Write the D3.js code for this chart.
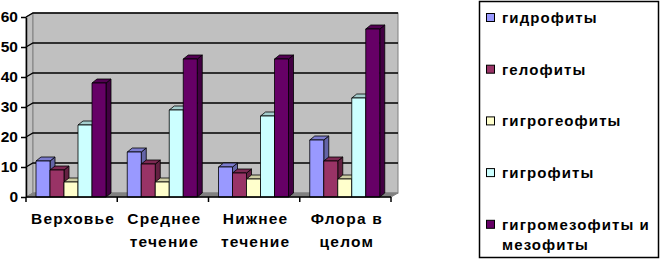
<!DOCTYPE html>
<html>
<head>
<meta charset="utf-8">
<script src="https://cdn.jsdelivr.net/npm/d3@7"></script>
<style>
  body { margin: 0; background: #fff; }
  text { font-family: "Liberation Sans", Arial, sans-serif; font-weight: bold; }
</style>
</head>
<body>
<div id="chart"></div>
<script>
// data
var categories = [["Верховье"], ["Среднее", "течение"], ["Нижнее", "течение"], ["Флора в", "целом"]];
var series = ["гидрофиты", "гелофиты", "гигрогеофиты", "гигрофиты", "гигромезофиты и мезофиты"];
var hydro    = [12, 15, 10, 19];
var helo     = [9, 11, 8, 12];
var hygroGeo = [5, 5, 6, 6];
var hygro    = [24, 29, 27, 33];
var hygroMes = [38, 46, 46, 56];
var yTicks = [0, 10, 20, 30, 40, 50, 60];

var values = [hydro, helo, hygroGeo, hygro, hygroMes];
var colors = ["#9999FF", "#993366", "#FFFFCC", "#CCFFFF", "#660066"];

var width = 661, height = 260;
var plotLeft = 26, plotRight = 391, plotTop = 17, plotBottom = 197;
var wallDx = 7, wallDy = -4;   // depth of the back wall
var barDx = 5, barDy = -4;     // depth of each column

var svg = d3.select("#chart").append("svg")
    .attr("width", width)
    .attr("height", height);

var y = d3.scaleLinear().domain([0, 60]).range([plotBottom, plotTop]);
var x = d3.scaleBand().domain(d3.range(categories.length)).range([plotLeft, plotRight]);
var xs = d3.scaleBand().domain(d3.range(series.length)).range([10, 80]);

// walls
svg.append("polygon")
    .attr("points", [[plotLeft, plotTop], [plotLeft + wallDx, plotTop + wallDy],
        [plotLeft + wallDx, plotBottom + wallDy], [plotLeft, plotBottom]].join(" "))
    .attr("fill", "#c0c0c0").attr("stroke", "#808080");
svg.append("rect")
    .attr("x", plotLeft + wallDx).attr("y", plotTop + wallDy)
    .attr("width", plotRight - plotLeft).attr("height", plotBottom - plotTop)
    .attr("fill", "#c0c0c0").attr("stroke", "#808080");
svg.append("polygon")
    .attr("points", [[plotLeft, plotBottom], [plotLeft + wallDx, plotBottom + wallDy],
        [plotRight + wallDx, plotBottom + wallDy], [plotRight, plotBottom]].join(" "))
    .attr("fill", "#808080").attr("stroke", "#808080");

// gridlines
yTicks.filter(function(t) { return t > 0; }).forEach(function(t) {
    svg.append("polyline")
        .attr("points", [[plotLeft, y(t)], [plotLeft + wallDx, y(t) + wallDy], [plotRight + wallDx, y(t) + wallDy]].join(" "))
        .attr("fill", "none").attr("stroke", "#000").attr("stroke-width", 1.3);
});

// columns
function shade(c, k) { return d3.color(c).darker(k).toString(); }
categories.forEach(function(cat, ci) {
    series.forEach(function(s, si) {
        var v = values[si][ci];
        var x0 = x(ci) + xs(si), x1 = x0 + xs.bandwidth();
        var yt = y(v), yb = plotBottom;
        var g = svg.append("g").attr("stroke", "#000").attr("stroke-width", 0.8).attr("stroke-linejoin", "round");
        g.append("polygon")
            .attr("points", [[x1, yt], [x1 + barDx, yt + barDy], [x1 + barDx, yb + barDy], [x1, yb]].join(" "))
            .attr("fill", shade(colors[si], 1.2));
        g.append("polygon")
            .attr("points", [[x0, yt], [x0 + barDx, yt + barDy], [x1 + barDx, yt + barDy], [x1, yt]].join(" "))
            .attr("fill", shade(colors[si], 0.6));
        g.append("rect")
            .attr("x", x0).attr("y", yt).attr("width", x1 - x0).attr("height", yb - yt)
            .attr("fill", colors[si]);
    });
});

// y axis
var yAxis = svg.append("g").attr("transform", "translate(" + plotLeft + ",0)")
    .call(d3.axisLeft(y).tickValues(yTicks).tickSize(5).tickSizeOuter(0).tickPadding(3));
yAxis.select(".domain").attr("stroke", "#000").attr("stroke-width", 1.5);
yAxis.selectAll("line").attr("stroke", "#000").attr("stroke-width", 1.5);
yAxis.selectAll("text").attr("font-size", 15.5).attr("fill", "#000")
    .style("font-family", "'Liberation Sans', Arial, sans-serif").style("font-weight", "bold");

// x axis
var xAxisG = svg.append("g");
xAxisG.append("line").attr("x1", plotLeft).attr("x2", plotRight).attr("y1", plotBottom).attr("y2", plotBottom)
    .attr("stroke", "#000").attr("stroke-width", 1.5);
d3.range(categories.length + 1).forEach(function(i) {
    var xx = plotLeft + i * x.step();
    xAxisG.append("line").attr("x1", xx).attr("x2", xx).attr("y1", plotBottom).attr("y2", plotBottom + 5)
        .attr("stroke", "#000").attr("stroke-width", 1.5);
});
categories.forEach(function(lines, ci) {
    var t = xAxisG.append("text")
        .attr("text-anchor", "middle")
        .attr("font-size", 15.5)
        .attr("letter-spacing", 1.2)
        .attr("fill", "#000");
    lines.forEach(function(l, li) {
        t.append("tspan").attr("x", x(ci) + x.bandwidth() / 2 + 1.5).attr("y", 224 + li * 23).text(l);
    });
});

// legend
var legend = svg.append("g");
legend.append("rect").attr("x", 479.5).attr("y", 1.5).attr("width", 179).attr("height", 256)
    .attr("fill", "#fff").attr("stroke", "#000").attr("stroke-width", 1.5);
var legendLines = [["гидрофиты"], ["гелофиты"], ["гигрогеофиты"], ["гигрофиты"], ["гигромезофиты и", "мезофиты"]];
series.forEach(function(s, i) {
    var yy = 13 + i * 51.7;
    legend.append("rect").attr("x", 486.5).attr("y", yy + 0.5).attr("width", 8).attr("height", 8)
        .attr("fill", colors[i]).attr("stroke", "#000").attr("stroke-width", 1);
    var t = legend.append("text").attr("font-size", 15).attr("letter-spacing", 1.1).attr("fill", "#000");
    legendLines[i].forEach(function(l, li) {
        t.append("tspan").attr("x", 502).attr("y", yy + 10 + li * 20).text(l);
    });
});
</script>
</body>
</html>
